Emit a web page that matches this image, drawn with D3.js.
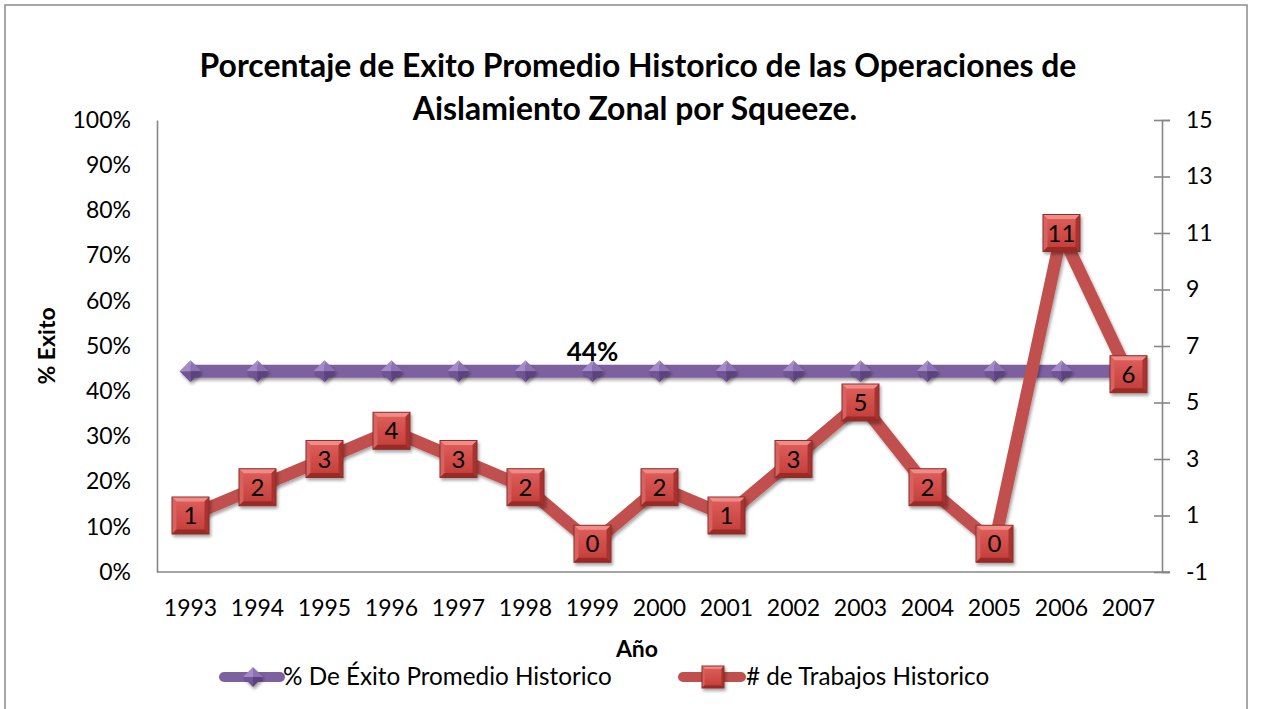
<!DOCTYPE html>
<html><head><meta charset="utf-8">
<script src="https://cdn.jsdelivr.net/npm/d3@7"></script>
<style>
html,body{margin:0;padding:0;background:#fff;}
svg{display:block;font-family:Lato,"Open Sans",sans-serif;}
</style></head>
<body>
<svg id="c" width="1261" height="709"></svg>
<script>
const years = ["1993","1994","1995","1996","1997","1998","1999","2000","2001","2002","2003","2004","2005","2006","2007"];
const exitoPromedio = [0.444,0.444,0.444,0.444,0.444,0.444,0.444,0.444,0.444,0.444,0.444,0.444,0.444,0.444,0.444];
const trabajos = [1,2,3,4,3,2,0,2,1,3,5,2,0,11,6];
const leftTicks = [0,0.1,0.2,0.3,0.4,0.5,0.6,0.7,0.8,0.9,1.0];
const rightTicks = [-1,1,3,5,7,9,11,13,15];
const titleLines = ["Porcentaje de Exito Promedio Historico de las Operaciones de","Aislamiento Zonal por Squeeze."];
const seriesNames = ["% De Éxito Promedio Historico","# de Trabajos Historico"];
const labelIndex = 6; // only 1999 shows the "44%" label

const svg = d3.select("#c");
const W = 1261, H = 709;
const plot = {l:157, r:1162, t:120, b:572};

const defs = svg.append("defs");
const f = defs.append("filter").attr("id","sh").attr("filterUnits","userSpaceOnUse")
  .attr("x",0).attr("y",0).attr("width",W).attr("height",H);
f.append("feDropShadow").attr("dx",1.5).attr("dy",2.5).attr("stdDeviation",1.5).attr("flood-color","#000").attr("flood-opacity",0.35);
const g1 = defs.append("linearGradient").attr("id","rg").attr("x1",0).attr("y1",0).attr("x2",0).attr("y2",1);
g1.append("stop").attr("offset","0%").attr("stop-color","#E0605C");
g1.append("stop").attr("offset","100%").attr("stop-color","#C23C38");

// frame
svg.append("rect").attr("x",5).attr("y",5).attr("width",1242).attr("height",710)
  .attr("fill","none").attr("stroke","#8a8a8a").attr("stroke-width",1.5);

const x = d3.scaleBand().domain(years).range([plot.l, plot.r]);
const yL = d3.scaleLinear().domain([0,1]).range([plot.b, plot.t]);
const yR = d3.scaleLinear().domain([-1,15]).range([plot.b, plot.t]);
const cx = d => x(d) + x.bandwidth()/2;

// title
function fitText(sel, target){
  let fs = parseFloat(sel.attr("font-size"));
  const w = sel.node().getComputedTextLength();
  sel.attr("font-size", fs*target/w);
}
const t1 = svg.append("text").attr("x",638).attr("y",77).attr("text-anchor","middle")
  .attr("font-weight","bold").attr("font-size",30).attr("fill","#000").text(titleLines[0]);
fitText(t1, 877);
const t2 = svg.append("text").attr("x",635).attr("y",120).attr("text-anchor","middle")
  .attr("font-weight","bold").attr("font-size",t1.attr("font-size")).attr("fill","#000").text(titleLines[1]);

// axes
const axisColor = "#868686";
const gL = svg.append("g").attr("transform",`translate(${plot.l},0)`)
  .call(d3.axisLeft(yL).tickValues(leftTicks).tickSize(0).tickPadding(26).tickFormat(d3.format(".0%")));
const gR = svg.append("g").attr("transform",`translate(${plot.r},0)`)
  .call(d3.axisRight(yR).tickValues(rightTicks).tickSize(8).tickPadding(16).tickFormat(d=>String(d)));
gR.selectAll(".tick line").attr("x1",-8);
const gB = svg.append("g").attr("transform",`translate(0,${plot.b})`)
  .call(d3.axisBottom(x).tickSize(0).tickPadding(24));
[gL,gR,gB].forEach(g=>{
  g.select(".domain").attr("stroke",axisColor).attr("stroke-width",1.6);
  g.selectAll(".tick line").attr("stroke",axisColor).attr("stroke-width",1.6);
  g.selectAll(".tick text").attr("font-size",23).attr("fill","#000").attr("font-family","Lato, sans-serif");
});
gB.select(".domain").attr("d",`M${plot.l},0H${plot.r+8}`);
gB.selectAll(".tick text").attr("dy","0.85em");

// axis titles
svg.append("text").attr("transform",`translate(55,346) rotate(-90)`).attr("text-anchor","middle")
  .attr("font-weight","bold").attr("font-size",23).text("% Exito");
svg.append("text").attr("x",637).attr("y",657).attr("text-anchor","middle")
  .attr("font-weight","bold").attr("font-size",23).text("Año");

// series lines
const purple = "#7D60A0", red = "#C0504D";
const lineL = d3.line().x((d,i)=>cx(years[i])).y(d=>yL(d));
const lineR = d3.line().x((d,i)=>cx(years[i])).y(d=>yR(d));
svg.append("path").attr("d",lineL(exitoPromedio)).attr("fill","none").attr("stroke",purple)
  .attr("stroke-width",13).attr("filter","url(#sh)");

function diamond(g, px, py, s){
  const h = s/2;
  const gg = g.append("g").attr("filter","url(#sh)");
  gg.append("path").attr("d",`M${px-h},${py}L${px},${py-h}L${px},${py}Z`).attr("fill","#A48AC6");
  gg.append("path").attr("d",`M${px},${py-h}L${px+h},${py}L${px},${py}Z`).attr("fill","#8D72B3");
  gg.append("path").attr("d",`M${px-h},${py}L${px},${py+h}L${px},${py}Z`).attr("fill","#6F5495");
  gg.append("path").attr("d",`M${px},${py+h}L${px+h},${py}L${px},${py}Z`).attr("fill","#5C437F");
}
function bevelSquare(g, px, py, s){
  const h = s/2, b = s*0.12;
  const gg = g.append("g").attr("filter","url(#sh)");
  const L=px-h, R=px+h, T=py-h, B=py+h;
  gg.append("rect").attr("x",L).attr("y",T).attr("width",s).attr("height",s).attr("fill","url(#rg)");
  gg.append("path").attr("d",`M${L},${T}L${R},${T}L${R-b},${T+b}L${L+b},${T+b}Z`).attr("fill","#F08C88");
  gg.append("path").attr("d",`M${L},${T}L${L+b},${T+b}L${L+b},${B-b}L${L},${B}Z`).attr("fill","#D8625E");
  gg.append("path").attr("d",`M${R},${T}L${R},${B}L${R-b},${B-b}L${R-b},${T+b}Z`).attr("fill","#A8302D");
  gg.append("path").attr("d",`M${L},${B}L${R},${B}L${R-b},${B-b}L${L+b},${B-b}Z`).attr("fill","#9A2B28");
  gg.append("rect").attr("x",L).attr("y",T).attr("width",s).attr("height",s).attr("fill","none")
    .attr("stroke","#8E2E2B").attr("stroke-width",1);
}

const gD = svg.append("g");
exitoPromedio.forEach((v,i)=>diamond(gD, cx(years[i]), yL(v), 22));

svg.append("path").attr("d",lineR(trabajos)).attr("fill","none").attr("stroke",red)
  .attr("stroke-width",12.5).attr("stroke-linejoin","miter").attr("filter","url(#sh)");
const gS = svg.append("g");
trabajos.forEach((v,i)=>{
  bevelSquare(gS, cx(years[i]), yR(v), 37);
  gS.append("text").attr("x",cx(years[i])).attr("y",yR(v)).attr("dy","0.36em").attr("text-anchor","middle")
    .attr("font-size",24).attr("fill","#000").text(v);
});

// 44% label
svg.append("text").attr("x",cx(years[labelIndex])).attr("y",yL(exitoPromedio[labelIndex])-10)
  .attr("text-anchor","middle").attr("font-weight","bold").attr("font-size",26)
  .text(d3.format(".0%")(exitoPromedio[labelIndex]));

// legend
const lg = svg.append("g");
lg.append("line").attr("x1",224).attr("x2",280).attr("y1",677).attr("y2",677)
  .attr("stroke",purple).attr("stroke-width",10).attr("stroke-linecap","round");
diamond(lg, 253, 677, 20);
const l1 = lg.append("text").attr("x",283).attr("y",685).attr("font-size",22).text(seriesNames[0]);
fitText(l1, 329);
lg.append("line").attr("x1",683).attr("x2",741).attr("y1",677).attr("y2",677)
  .attr("stroke",red).attr("stroke-width",10).attr("stroke-linecap","round");
bevelSquare(lg, 713, 677, 22);
const l2 = lg.append("text").attr("x",746).attr("y",685).attr("font-size",l1.attr("font-size")).text(seriesNames[1]);
</script>
</body></html>
